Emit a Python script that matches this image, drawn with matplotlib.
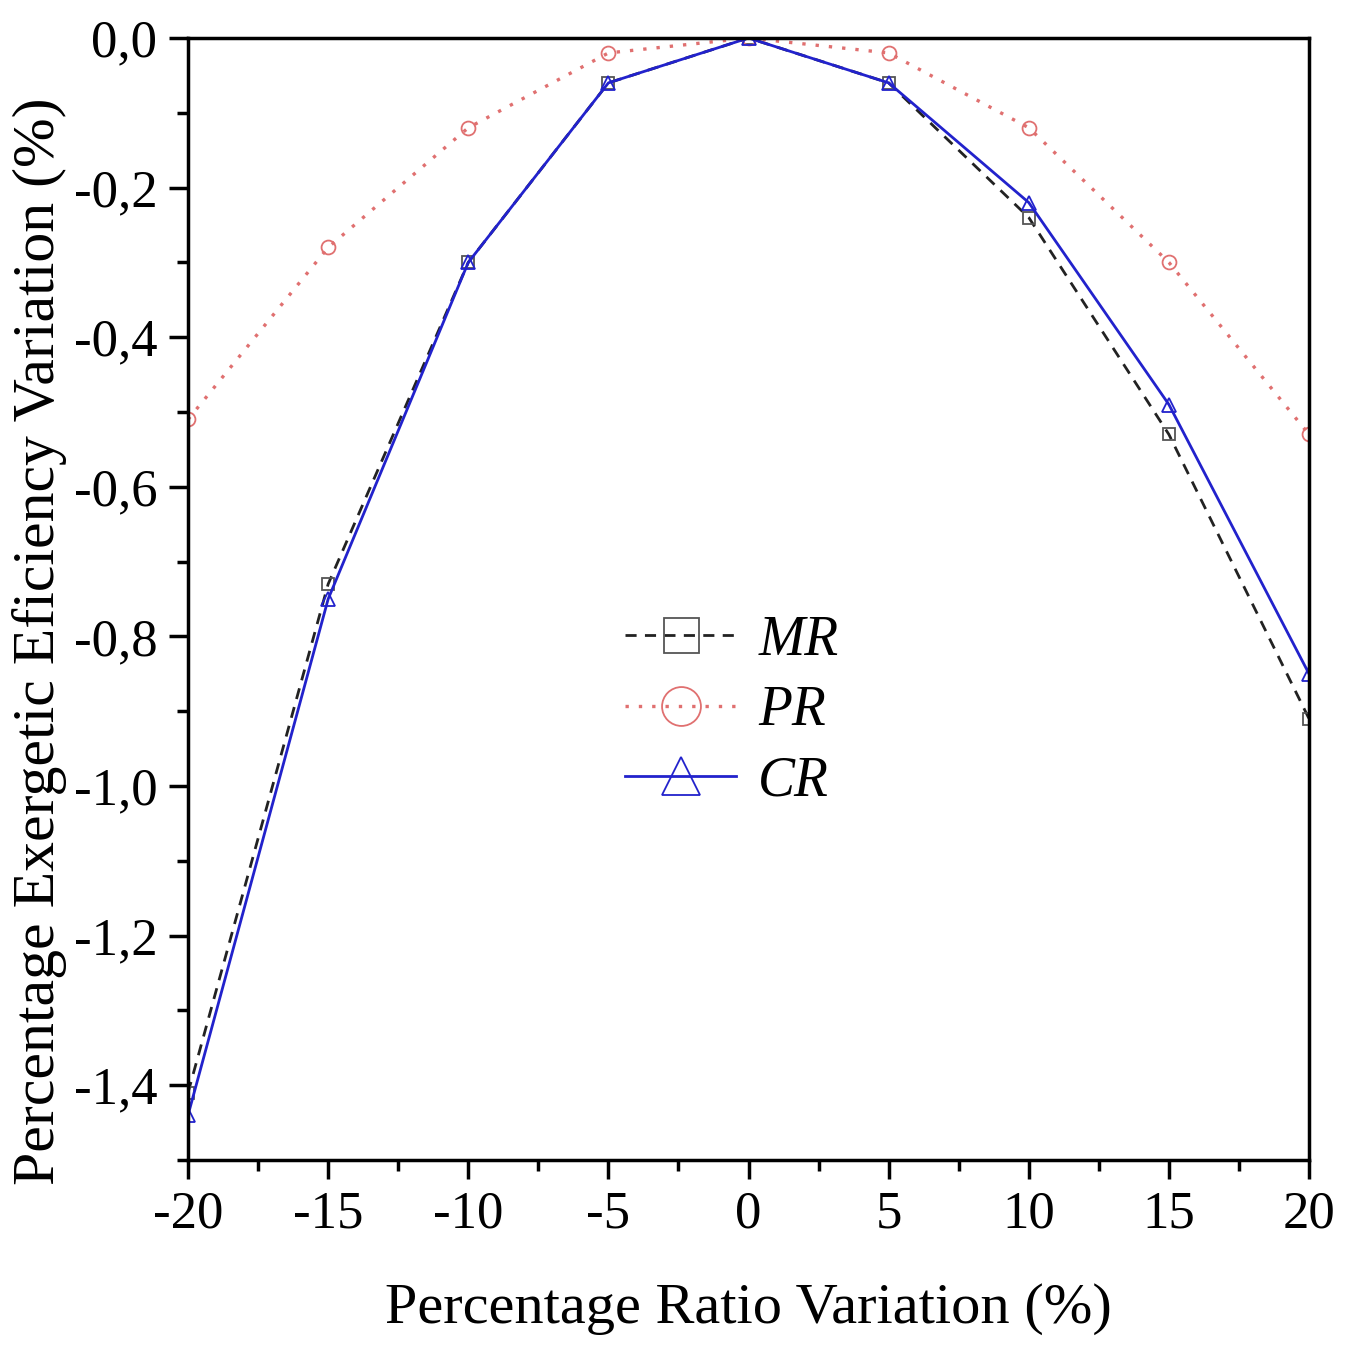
import numpy as np
import matplotlib.pyplot as plt
from matplotlib.ticker import MultipleLocator, FuncFormatter

plt.rcParams['font.family'] = ['Liberation Serif', 'DejaVu Serif']

# data
ratio = [-20, -15, -10, -5, 0, 5, 10, 15, 20]
mr = [-1.41, -0.73, -0.30, -0.06, 0.0, -0.06, -0.24, -0.53, -0.91]
pr = [-0.51, -0.28, -0.12, -0.02, 0.0, -0.02, -0.12, -0.30, -0.53]
cr = [-1.44, -0.75, -0.30, -0.06, 0.0, -0.06, -0.22, -0.49, -0.85]

fig = plt.figure(figsize=(13.47, 13.52), dpi=100)
ax = fig.add_axes([0.1396, 0.142, 0.8322, 0.8299])

ax.plot(ratio, mr, color='#222222', ls=(0, (4, 3)), lw=2.0, marker='s', ms=9,
        mfc='none', mec='#555555', mew=1.3, label='MR')
ax.plot(ratio, pr, color='#e07070', ls=(0, (1, 3)), lw=2.4, marker='o', ms=10,
        mfc='none', mec='#e07070', mew=1.3, label='PR')
ax.plot(ratio, cr, color='#2222cc', ls='-', lw=2.0, marker='^', ms=10,
        mfc='none', mec='#2222cc', mew=1.3, label='CR')

ax.set_xlim(-20, 20)
ax.set_ylim(-1.5, 0)
ax.xaxis.set_major_locator(MultipleLocator(5))
ax.xaxis.set_minor_locator(MultipleLocator(2.5))
ax.yaxis.set_major_locator(MultipleLocator(0.2))
ax.yaxis.set_minor_locator(MultipleLocator(0.1))
ax.yaxis.set_major_formatter(FuncFormatter(lambda v, p: ('%.1f' % v).replace('.', ',') if abs(v) > 1e-9 else '0,0'))
ax.xaxis.set_major_formatter(FuncFormatter(lambda v, p: '%d' % v))
ax.tick_params(which='major', direction='out', length=14, width=2.5, labelsize=38, pad=8)
ax.tick_params(which='minor', direction='out', length=8, width=2.5)
for s in ax.spines.values():
    s.set_linewidth(2.5)

ax.set_xlabel('Percentage Ratio Variation (%)', fontsize=42, labelpad=32)
ax.set_ylabel('Percentage Exergetic Eficiency Variation (%)', fontsize=43, labelpad=8)
ax.yaxis.set_label_coords(-0.108, 0.462)

leg = ax.legend(loc='center', bbox_to_anchor=(0.485, 0.40), frameon=False,
                markerscale=2.8, handlelength=2.0, handletextpad=0.4, labelspacing=0.33,
                prop={'style': 'italic', 'size': 40})

fig.savefig('out.png', dpi=100)
